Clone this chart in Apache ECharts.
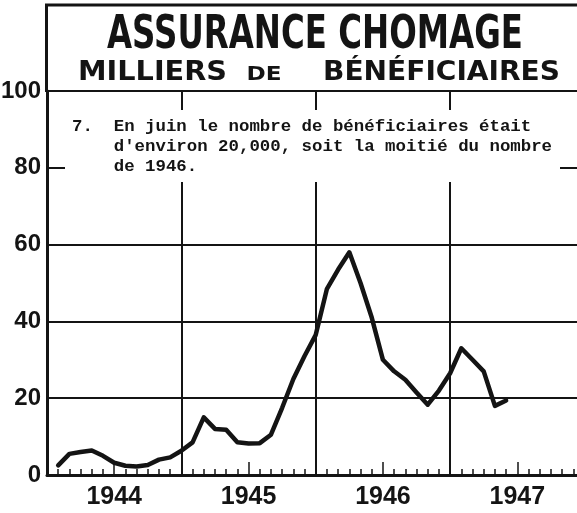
<!DOCTYPE html>
<html><head><meta charset="utf-8">
<script src="https://cdn.jsdelivr.net/npm/echarts@6/dist/echarts.min.js"></script>
<style>html,body{margin:0;padding:0;background:#fff}#c{width:577px;height:513px}</style>
</head><body><div id="c"></div>
<script>
// ---- data ----
const title = 'ASSURANCE CHOMAGE';
const subtitleWords = ['MILLIERS', 'DE', 'BÉNÉFICIAIRES'];
const note = [
  '7.  En juin le nombre de bénéficiaires était',
  "    d'environ 20,000, soit la moitié du nombre",
  '    de 1946.'
];
const yearLabels = ['1944', '1945', '1946', '1947'];
const yTickLabels = ['0', '20', '40', '60', '80', '100'];
// thousands of beneficiaries, month by month from end of Jan 1944 to mid 1947
const beneficiaires = [
  2.5, 5.5, 6.0, 6.4, 5.0, 3.2, 2.4, 2.2, 2.6, 4.0, 4.6, 6.3,
  8.5, 15.0, 12.0, 11.8, 8.5, 8.2, 8.3, 10.5, 17.5, 25.0, 31.0, 36.5,
  48.5, 53.5, 58.0, 50.0, 41.0, 30.0, 27.0, 24.8, 21.5, 18.3, 22.0, 26.5,
  33.0, 30.0, 27.0, 18.0, 19.4
];

// ---- helpers ----
const ink = '#141414';
const labelFont = '"Liberation Sans", Arial, sans-serif';
const mctx = document.createElement('canvas').getContext('2d');
function textWidth(t, font) { mctx.font = font; return mctx.measureText(t).width; }
function fittedText(t, cx, cy, size, targetW) {
  const font = 'bold ' + size + 'px "DejaVu Sans"';
  const w = textWidth(t, font);
  return {
    type: 'text', x: cx, y: cy, scaleX: targetW / w, z: 100,
    style: { text: t, font: font, fill: ink, align: 'center', verticalAlign: 'middle' }
  };
}

const midYears = yearLabels.map((_, i) => 6 + 12 * i);

const chart = echarts.init(document.getElementById('c'), null, { renderer: 'canvas' });
chart.setOption({
  animation: false,
  backgroundColor: '#fff',
  grid: { left: 47, right: -7.5, top: 91, bottom: 38, containLabel: false, outerBoundsMode: 'none' },
  xAxis: [
    {
      type: 'value', min: 0, max: 48, interval: 12,
      axisLine: { show: true, onZero: false, lineStyle: { color: ink, width: 3 } },
      axisTick: { show: true, inside: true, length: 6, lineStyle: { color: ink, width: 1.5 } },
      minorTick: { show: true, splitNumber: 12, length: 6, lineStyle: { color: ink, width: 1.5 } },
      splitLine: { show: true, lineStyle: { color: ink, width: 2 } },
      axisLabel: { show: false }
    },
    {
      type: 'value', min: 0, max: 48, position: 'bottom', gridIndex: 0,
      axisLine: { show: false },
      axisTick: { show: true, inside: true, length: 13, customValues: midYears, lineStyle: { color: ink, width: 1.5 } },
      axisLabel: {
        customValues: midYears,
        formatter: v => yearLabels[Math.round((v - 6) / 12)],
        fontFamily: labelFont, fontWeight: 'bold', fontSize: 25, color: ink, margin: 10
      },
      splitLine: { show: false }
    }
  ],
  yAxis: {
    type: 'value', min: 0, max: 100, interval: 20,
    axisLine: { show: true, lineStyle: { color: ink, width: 3 } },
    axisTick: { show: false },
    splitLine: { show: true, lineStyle: { color: ink, width: 2 } },
    axisLabel: {
      formatter: v => yTickLabels[Math.round(v / 20)],
      fontFamily: labelFont, fontWeight: 'bold', fontSize: 24, color: ink, margin: 6
    }
  },
  series: [{
    type: 'line', xAxisIndex: 0,
    data: beneficiaires.map((v, i) => [i + 1, v]),
    showSymbol: false, smooth: false,
    lineStyle: { color: ink, width: 4.5, join: 'round', cap: 'round' },
    z: 5
  }],
  graphic: [
    { type: 'line', z: 100, shape: { x1: 45, y1: 5, x2: 577, y2: 5 }, style: { stroke: ink, lineWidth: 3 } },
    { type: 'line', z: 100, shape: { x1: 46.5, y1: 4, x2: 46.5, y2: 92 }, style: { stroke: ink, lineWidth: 3 } },
    fittedText(title, 315, 36, 46, 416),
    fittedText(subtitleWords[0], 152.5, 73, 26, 149),
    fittedText(subtitleWords[1], 264, 75.5, 19, 35),
    fittedText(subtitleWords[2], 441.5, 73, 26, 237),
    { type: 'rect', z: 90, shape: { x: 65, y: 110, width: 495, height: 72 }, style: { fill: '#fff' } },
    {
      type: 'text', z: 100, x: 72, y: 117,
      style: { text: note.join('\n'), font: 'bold 17.4px "Liberation Mono", "DejaVu Sans Mono", monospace', lineHeight: 20, fill: ink, verticalAlign: 'top' }
    }
  ]
});
</script>
</body></html>
